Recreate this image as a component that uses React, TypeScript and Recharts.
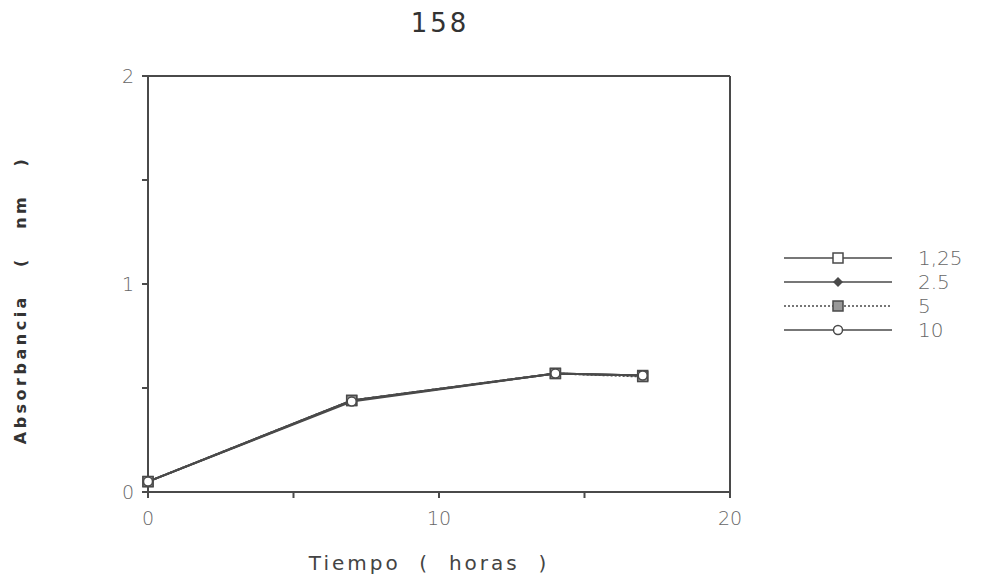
import React from 'react'
import { LineChart, Line, XAxis, YAxis, ReferenceLine } from 'recharts'

const horas = [0, 7, 14, 17]
const conc125 = [0.05, 0.44, 0.57, 0.56]
const conc25 = [0.05, 0.44, 0.57, 0.56]
const conc5 = [0.05, 0.44, 0.57, 0.555]
const conc10 = [0.05, 0.435, 0.57, 0.56]
const xTicks = [0, 5, 10, 15, 20]
const yTicks = [0, 0.5, 1, 1.5, 2]
const seriesNames = ['1,25', '2.5', '5', '10']

const data = horas.map((h, i) => ({
  h,
  a: conc125[i],
  b: conc25[i],
  c: conc5[i],
  d: conc10[i],
}))

const INK = '#4a4a4a'
const LABEL = '#666'

const Marker = ({ kind, cx, cy }: { kind: string; cx: number; cy: number }) => {
  if (kind === 'square')
    return <rect x={cx - 5} y={cy - 5} width={10} height={10} fill="#fff" stroke={INK} strokeWidth={1.5} />
  if (kind === 'diamond')
    return <polygon points={`${cx},${cy - 5} ${cx + 5},${cy} ${cx},${cy + 5} ${cx - 5},${cy}`} fill={INK} />
  if (kind === 'hatched')
    return <rect x={cx - 5} y={cy - 5} width={10} height={10} fill="#999" stroke={INK} strokeWidth={1.5} />
  return <circle cx={cx} cy={cy} r={4.5} fill="#fff" stroke={INK} strokeWidth={1.5} />
}

const dot = (kind: string) => (props: any) =>
  <Marker key={`${kind}-${props.index}`} kind={kind} cx={props.cx} cy={props.cy} />

const markerKinds = ['square', 'diamond', 'hatched', 'circle']
const dashes = ['', '', '2 2', '']

// legend drawn by hand, the chart's own Legend eats into the plot area
const LegendBox = () => (
  <svg width={215} height={100} style={{ position: 'absolute', left: 762, top: 246 }}>
    {seriesNames.map((n, i) => {
      const y = 12 + i * 24
      return (
        <g key={n}>
          <line x1={22} x2={130} y1={y} y2={y} stroke={INK} strokeWidth={1.5} strokeDasharray={dashes[i]} />
          <Marker kind={markerKinds[i]} cx={76} cy={y} />
          <text x={156} y={y + 7} fontSize={20} fill={LABEL} fontFamily="DejaVu Sans" fontWeight={300}>
            {n}
          </text>
        </g>
      )
    })}
  </svg>
)

const fmt = (v: number) => (v === 0 || v === 10 || v === 20 ? String(v) : '')
const fmtY = (v: number) => (Number.isInteger(v) ? String(v) : '')

export default function App() {
  return (
    <div style={{ position: 'absolute', left: 0, top: 0, width: 981, height: 584, background: '#fff' }}>
      <div
        style={{
          position: 'absolute', left: 0, top: 8, width: 880, textAlign: 'center',
          fontFamily: 'DejaVu Sans', fontSize: 26, letterSpacing: 3, color: '#333',
        }}
      >
        158
      </div>
      <LineChart width={981} height={584} data={data} margin={{ top: 76, right: 251, bottom: 32, left: 88 }}>
        <XAxis
          dataKey="h" type="number" domain={[0, 20]} ticks={xTicks} tickFormatter={fmt}
          stroke={INK} strokeWidth={2} tickSize={6} tickMargin={14} height={60}
          tick={{ fontSize: 19, fill: LABEL, fontFamily: 'DejaVu Sans', fontWeight: 300 }}
        />
        <YAxis
          type="number" domain={[0, 2]} ticks={yTicks} tickFormatter={fmtY}
          stroke={INK} strokeWidth={2} tickSize={6} tickMargin={8} width={60}
          tick={{ fontSize: 19, fill: LABEL, fontFamily: 'DejaVu Sans', fontWeight: 300 }}
        />
        <ReferenceLine y={2} stroke={INK} strokeWidth={2} />
        <ReferenceLine x={20} stroke={INK} strokeWidth={2} />
        <Line dataKey="a" stroke={INK} strokeWidth={2} dot={dot('square')} isAnimationActive={false} />
        <Line dataKey="b" stroke={INK} strokeWidth={2} dot={dot('diamond')} isAnimationActive={false} />
        <Line dataKey="c" stroke={INK} strokeWidth={2} strokeDasharray="2 2" dot={dot('hatched')} isAnimationActive={false} />
        <Line dataKey="d" stroke={INK} strokeWidth={2} dot={dot('circle')} isAnimationActive={false} />
      </LineChart>
      <LegendBox />
      <div
        style={{
          position: 'absolute', left: 20, top: 300, transform: 'translate(-50%, -50%) rotate(-90deg)',
          fontFamily: 'DejaVu Sans', fontWeight: 'bold', fontSize: 16, letterSpacing: 3.5, color: '#333', whiteSpace: 'pre',
        }}
      >
        {'Absorbancia   (   nm   )'}
      </div>
      <div
        style={{
          position: 'absolute', left: 429, top: 563, transform: 'translate(-50%, -50%)',
          fontFamily: 'DejaVu Sans', fontSize: 20, color: '#444', whiteSpace: 'pre', letterSpacing: 3,
        }}
      >
        {'Tiempo  (  horas  )'}
      </div>
    </div>
  )
}
